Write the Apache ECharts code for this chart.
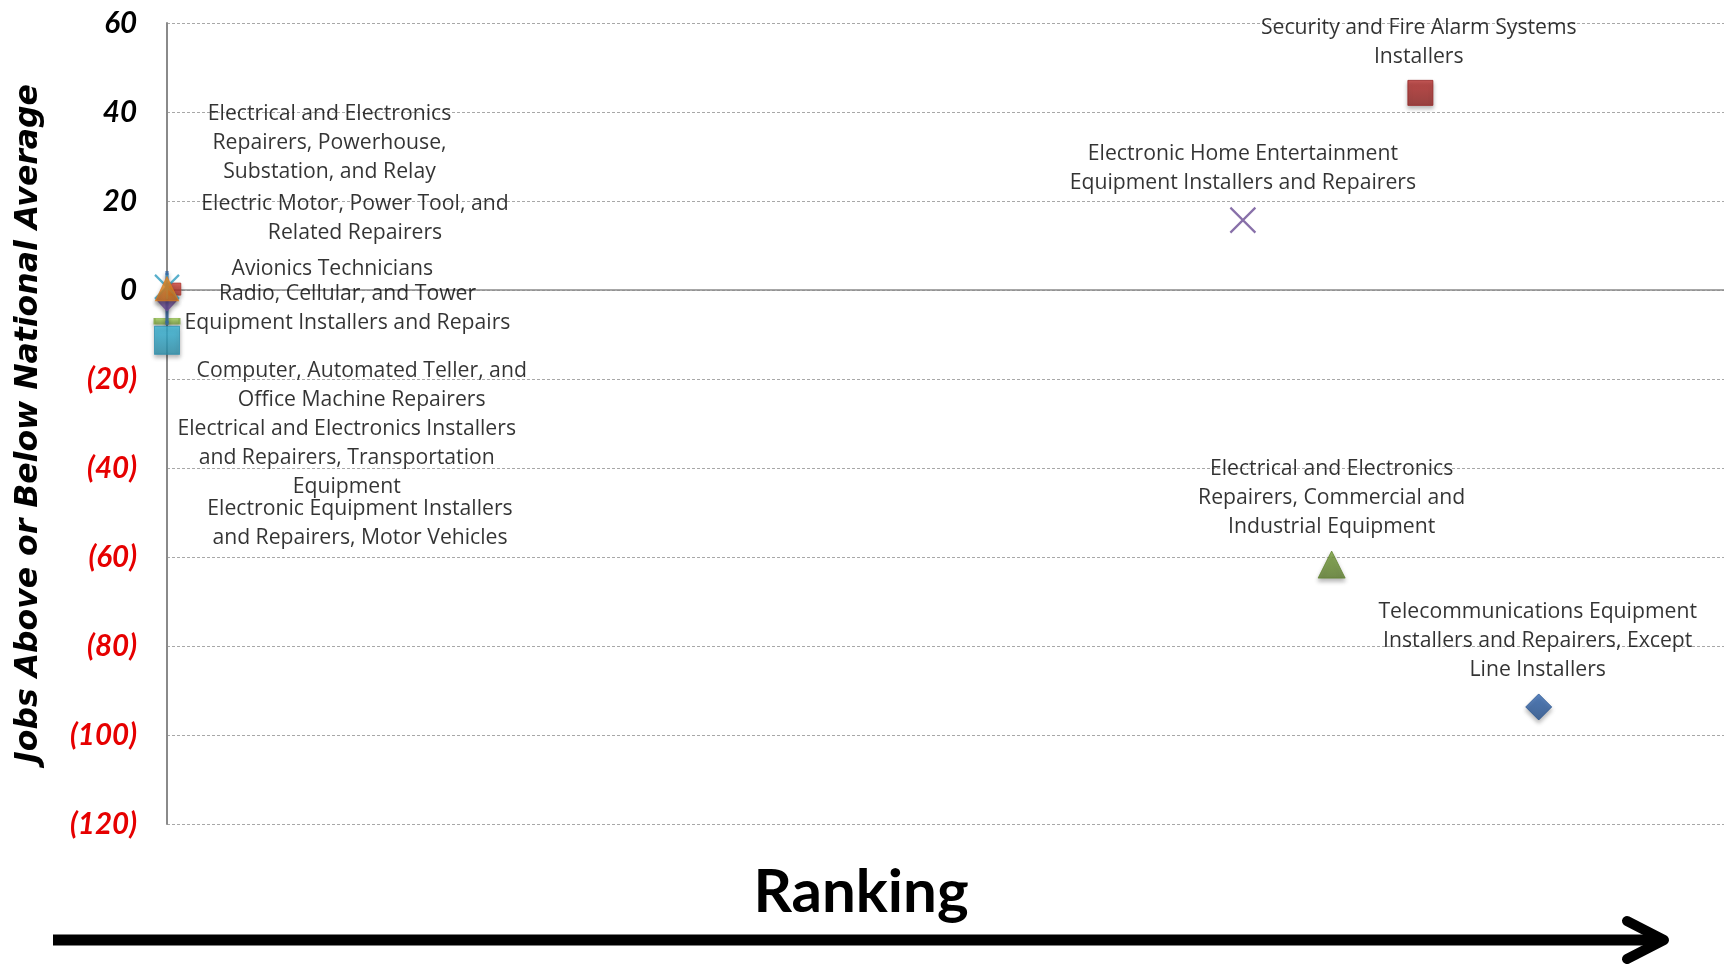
<!DOCTYPE html>
<html>
<head>
<meta charset="utf-8">
<script src="https://cdn.jsdelivr.net/npm/echarts@6/dist/echarts.min.js"></script>
<style>
html,body{margin:0;padding:0;background:#fff;}
#chart{width:1724px;height:967px;}
</style>
</head>
<body>
<div id="chart"></div>
<script>
// ---- data ----
const occupations = [
  "Electrical and Electronics Installers\nand Repairers, Transportation\nEquipment",
  "Computer, Automated Teller, and\nOffice Machine Repairers",
  "Electronic Equipment Installers\nand Repairers, Motor Vehicles",
  "Radio, Cellular, and Tower\nEquipment Installers and Repairs",
  "Avionics Technicians",
  "Electrical and Electronics\nRepairers, Powerhouse,\nSubstation, and Relay",
  "Electric Motor, Power Tool, and\nRelated Repairers",
  "Electronic Home Entertainment\nEquipment Installers and Repairers",
  "Electrical and Electronics\nRepairers, Commercial and\nIndustrial Equipment",
  "Security and Fire Alarm Systems\nInstallers",
  "Telecommunications Equipment\nInstallers and Repairers, Except\nLine Installers"
];
const ranking = [0, 0, 0, 0, 0.5, 0, 0, 69.1, 74.8, 80.5, 88.1];
const jobsVsAverage = [-7.0, -1.8, -11.3, -2.0, 0.2, 0.7, 0.3, 15.7, -61.7, 44.3, -93.7];
const yTicks = [-120, -100, -80, -60, -40, -20, 0, 20, 40, 60];

// ---- styles (marker look & label placement) ----
const markerStyles = [
  {symbol:'rect', size:[25,6], color:'#8DB848'},
  {symbol:'rect', size:[3,50], color:'#3B74B5'},
  {symbol:'rect', size:[25,28], color:'#33A8C8', border:'#2A8FAE'},
  {symbol:'diamond', size:[22,24], color:'#7A56A6'},
  {symbol:'rect', size:[12,12], color:'#C0382F'},
  {symbol:'path://M0,0L24,24M24,0L0,24M12,0L12,24', size:[24,24], stroke:'#2E9BBE'},
  {symbol:'triangle', size:[23,24], color:'#F08A24'},
  {symbol:'path://M0,0L24,24M24,0L0,24', size:[25,25], stroke:'#6A4C93'},
  {symbol:'triangle', size:[27,27], color:'#6E9436'},
  {symbol:'rect', size:[25,25], color:'#A82A28'},
  {symbol:'diamond', size:[26,26], color:'#2E5FA3'}
];
const labelOffsets = [
  [179.7, 137], [194.7, 87.5], [193, 183], [180.5, 9.4], [157.5, -20.6],
  [162.5, -144.3], [188, -70], [0, -51.7], [0, -66.5], [-1.6, -50.6], [-1, -65.8]
];

const chart = echarts.init(document.getElementById('chart'));

function shade(c, f){
  const n = parseInt(c.slice(1),16);
  let r=(n>>16)&255,g=(n>>8)&255,b=n&255;
  r=Math.min(255,Math.round(r*f));g=Math.min(255,Math.round(g*f));b=Math.min(255,Math.round(b*f));
  return 'rgb('+r+','+g+','+b+')';
}

const series = occupations.map((name, i) => {
  const st = markerStyles[i];
  const itemStyle = st.stroke ? {
    color:'rgba(0,0,0,0)', borderColor: st.stroke, borderWidth: 2.2
  } : {
    color: new echarts.graphic.LinearGradient(0,0,0,1,[
      {offset:0,color:shade(st.color,1.12)},{offset:1,color:shade(st.color,0.85)}]),
    borderColor: st.border || shade(st.color,0.9), borderWidth: 1,
    shadowBlur: 4, shadowColor:'rgba(0,0,0,0.35)', shadowOffsetY: 3
  };
  return {
    type:'scatter',
    name: name,
    clip:false,
    symbol: st.symbol,
    symbolSize: st.size,
    itemStyle: itemStyle,
    z: 3 + i*0.01,
    data: [[ranking[i], jobsVsAverage[i]]],
    label: {
      show:true,
      position:'inside',
      offset: labelOffsets[i],
      formatter: name,
      fontFamily:'Open Sans',
      fontSize:21.2,
      lineHeight:29,
      color:'#000',
      textBorderWidth:0,
      align:'center',
      verticalAlign:'middle'
    },
    emphasis:{disabled:true}
  };
});

chart.setOption({
  animation:false,
  backgroundColor:'#fff',
  grid:{left:167, right:0, top:23, bottom:143},
  xAxis:{
    type:'value', min:0, max:100,
    axisLine:{show:true, onZero:true, lineStyle:{color:'#8a8a8a', width:1.5}},
    axisTick:{show:false}, axisLabel:{show:false}, splitLine:{show:false}
  },
  yAxis:{
    type:'value', min:yTicks[0], max:yTicks[yTicks.length-1], interval:20,
    name:'Jobs Above or Below National Average',
    nameLocation:'middle', nameRotate:90, nameGap:122,
    nameTextStyle:{fontFamily:'DejaVu Sans', fontWeight:'bold', fontStyle:'italic', fontSize:31.5, color:'#000'},
    axisLine:{show:true, onZero:false, lineStyle:{color:'#8a8a8a', width:2}},
    axisTick:{show:false},
    splitLine:{show:true, lineStyle:{color:'#a8a8a8', type:[3,2], width:1}},
    axisLabel:{
      margin:30,
      fontFamily:'Lato', fontWeight:'bold', fontStyle:'italic', fontSize:29.5,
      formatter: v => v < 0 ? '{n|(' + Math.abs(v) + ')}' : '{p|' + v + '}',
      rich:{
        n:{color:'#E60000', fontFamily:'Lato', fontWeight:'bold', fontStyle:'italic', fontSize:29.5},
        p:{color:'#000', fontFamily:'Lato', fontWeight:'bold', fontStyle:'italic', fontSize:29.5}
      }
    }
  },
  graphic:[
    {type:'text', style:{text:'Ranking', fontFamily:'Lato', fontWeight:'bold', fontSize:60, fill:'#000', x:861, y:893, align:'center', verticalAlign:'middle'}},
    {type:'polyline', shape:{points:[[53,940],[1662,940]]}, style:{stroke:'#000', lineWidth:11, fill:null}},
    {type:'polyline', shape:{points:[[1627,921],[1664,940],[1627,959]]}, style:{stroke:'#000', lineWidth:10, lineCap:'round', lineJoin:'round', fill:null}}
  ],
  series: series
});
</script>
</body>
</html>
